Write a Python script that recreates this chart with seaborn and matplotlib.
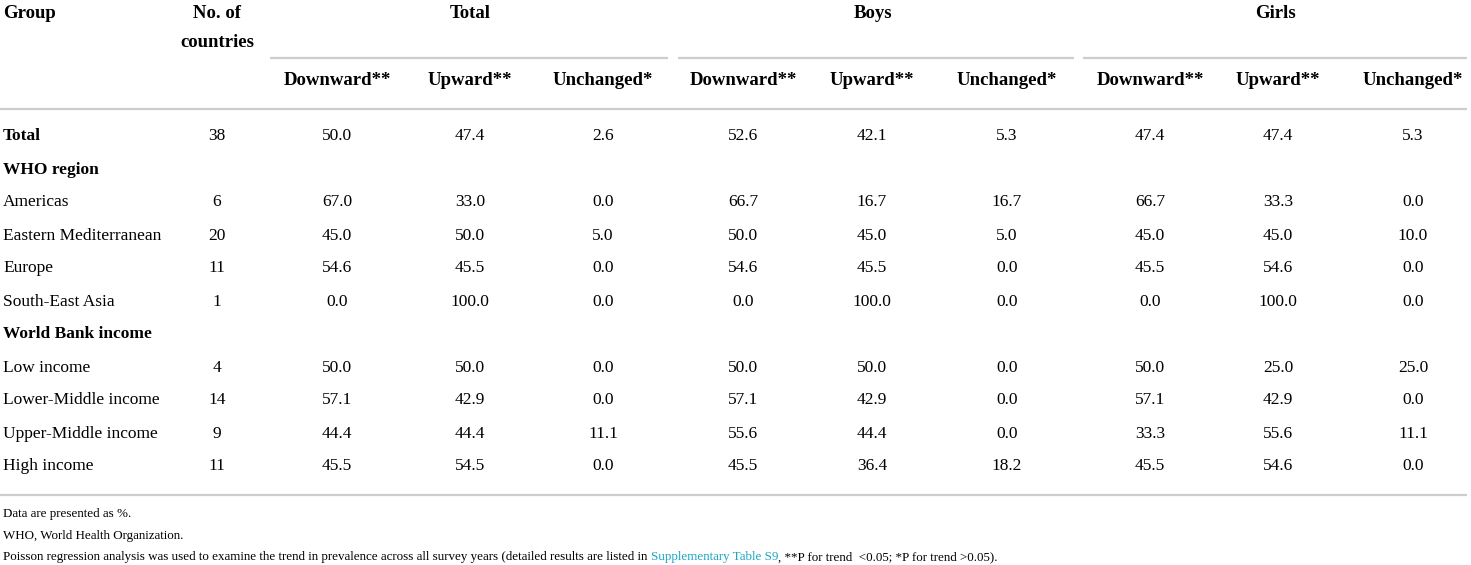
import matplotlib.pyplot as plt
import seaborn as sns


# Table data
GROUPS = ['Total', 'WHO region', 'Americas', 'Eastern Mediterranean', 'Europe',
          'South-East Asia', 'World Bank income', 'Low income',
          'Lower-Middle income', 'Upper-Middle income', 'High income']
BOLD_ROWS = ['Total', 'WHO region', 'World Bank income']
N_COUNTRIES = [38, None, 6, 20, 11, 1, None, 4, 14, 9, 11]

TOTAL_DOWN = [50.0, None, 67.0, 45.0, 54.6, 0.0, None, 50.0, 57.1, 44.4, 45.5]
TOTAL_UP = [47.4, None, 33.0, 50.0, 45.5, 100.0, None, 50.0, 42.9, 44.4, 54.5]
TOTAL_UNCH = [2.6, None, 0.0, 5.0, 0.0, 0.0, None, 0.0, 0.0, 11.1, 0.0]
BOYS_DOWN = [52.6, None, 66.7, 50.0, 54.6, 0.0, None, 50.0, 57.1, 55.6, 45.5]
BOYS_UP = [42.1, None, 16.7, 45.0, 45.5, 100.0, None, 50.0, 42.9, 44.4, 36.4]
BOYS_UNCH = [5.3, None, 16.7, 5.0, 0.0, 0.0, None, 0.0, 0.0, 0.0, 18.2]
GIRLS_DOWN = [47.4, None, 66.7, 45.0, 45.5, 0.0, None, 50.0, 57.1, 33.3, 45.5]
GIRLS_UP = [47.4, None, 33.3, 45.0, 54.6, 100.0, None, 25.0, 42.9, 55.6, 54.6]
GIRLS_UNCH = [5.3, None, 0.0, 10.0, 0.0, 0.0, None, 25.0, 0.0, 11.1, 0.0]

SEX_GROUPS = ['Total', 'Boys', 'Girls']
TRENDS = ['Downward**', 'Upward**', 'Unchanged*']

FOOTNOTES = ['Data are presented as %.', 'WHO, World Health Organization.']
LAST_NOTE = ['Poisson regression analysis was used to examine the trend in prevalence '
             'across all survey years (detailed results are listed in ',
             'Supplementary Table S9',
             ', **P for trend  <0.05; *P for trend >0.05).']

# Layout config
WIDTH, HEIGHT, DPI = 1471, 565, 100
FONT = 'Liberation Serif'
LINE_COLOR = '#cdcdcd'
LINK_COLOR = '#1ba5c2'
HEAD_SIZE = 13.5
BODY_SIZE = 12.5
NOTE_SIZE = 9.4
NUM_X = [337, 470, 603, 743, 872, 1007, 1150, 1278, 1413]
GROUP_X = [470, 873, 1276]
SPANS = [(270, 668), (678, 1074), (1083, 1467)]
COUNT_X = 217
ROW0, ROW_STEP = 140.5, 33.0

columns = [TOTAL_DOWN, TOTAL_UP, TOTAL_UNCH, BOYS_DOWN, BOYS_UP, BOYS_UNCH,
           GIRLS_DOWN, GIRLS_UP, GIRLS_UNCH]

sns.set_theme(style='white')
plt.rcParams['font.family'] = [FONT, 'DejaVu Serif']
plt.rcParams['text.color'] = 'black'

fig = plt.figure(figsize=(WIDTH / DPI, HEIGHT / DPI), dpi=DPI)
ax = fig.add_axes([0, 0, 1, 1])
ax.set_xlim(0, WIDTH)
ax.set_ylim(HEIGHT, 0)
ax.axis('off')

# Header
head = dict(fontsize=HEAD_SIZE, fontweight='bold', va='baseline')
ax.text(3, 18, 'Group', **head)
ax.text(COUNT_X, 18, 'No. of', ha='center', **head)
ax.text(COUNT_X, 47, 'countries', ha='center', **head)
for name, x in zip(SEX_GROUPS, GROUP_X):
  ax.text(x, 18, name, ha='center', **head)
for i, x in enumerate(NUM_X):
  ax.text(x, 85, TRENDS[i % 3], ha='center', **head)

for x0, x1 in SPANS:
  ax.hlines(58, x0, x1, color=LINE_COLOR, lw=1.6)
ax.hlines([109, 495], 0, 1467, color=LINE_COLOR, lw=1.6)

# Body
for r, group in enumerate(GROUPS):
  y = ROW0 + r * ROW_STEP
  weight = 'bold' if group in BOLD_ROWS else 'normal'
  ax.text(3, y, group, fontsize=BODY_SIZE, fontweight=weight, va='baseline')
  if N_COUNTRIES[r] is not None:
    ax.text(COUNT_X, y, str(N_COUNTRIES[r]), fontsize=BODY_SIZE, va='baseline', ha='center')
  for x, col in zip(NUM_X, columns):
    if col[r] is not None:
      ax.text(x, y, f'{col[r]:.1f}', fontsize=BODY_SIZE, va='baseline', ha='center')

# Footnotes
for i, note in enumerate(FOOTNOTES):
  ax.text(3, 517 + i * 21.5, note, fontsize=NOTE_SIZE, va='baseline')
prev = ax.text(3, 560, LAST_NOTE[0], fontsize=NOTE_SIZE, va='baseline')
for part, color in zip(LAST_NOTE[1:], [LINK_COLOR, 'black']):
  prev = ax.annotate(part, xy=(1, 0), xycoords=prev, va='bottom', ha='left',
                     fontsize=NOTE_SIZE, color=color)

plt.savefig('out.png', dpi=DPI)
